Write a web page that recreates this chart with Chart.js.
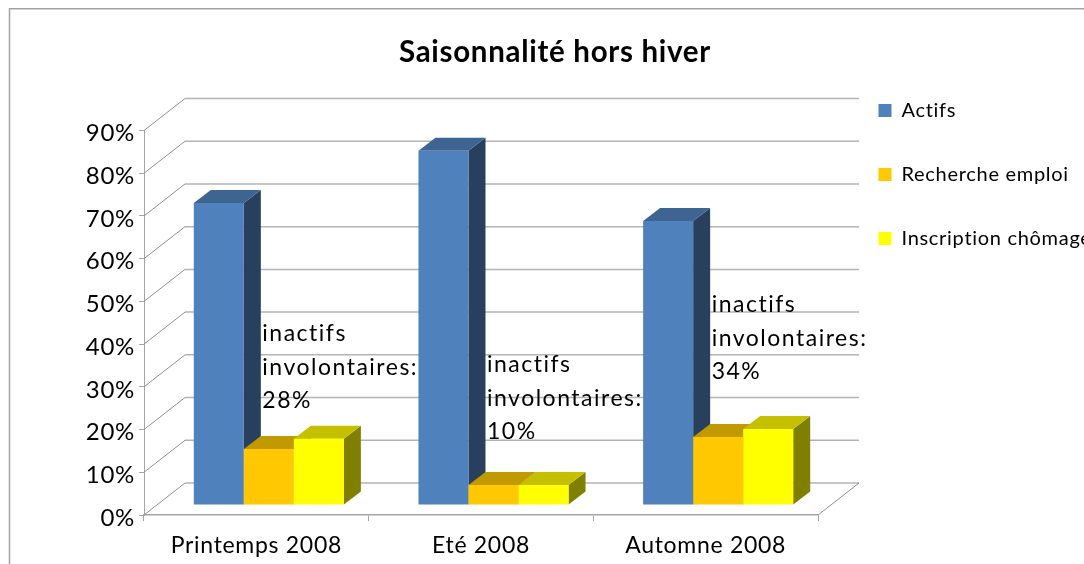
<!DOCTYPE html>
<html lang="fr">
<head>
<meta charset="utf-8">
<title>Saisonnalité hors hiver</title>
<style>
html,body{margin:0;padding:0;background:#fff;overflow:hidden}
canvas{display:block}
</style>
<script src="https://cdn.jsdelivr.net/npm/chart.js@4/dist/chart.umd.min.js"></script>
</head>
<body>
<canvas id="c" width="1084" height="564"></canvas>
<script>
const categories = ['Printemps 2008', 'Eté 2008', 'Automne 2008'];
const actifs = [70.7, 82.9, 66.5];
const rechercheEmploi = [13.1, 4.7, 15.9];
const inscriptionChomage = [15.5, 4.7, 17.8];
const inactifsInvolontaires = ['28%', '10%', '34%'];

const FONT = 'Lato, "Open Sans", sans-serif';
const SPACING = '0.7px';
const NOTE_SPACING = '1.5px';
const GRID = '#b4b4b4';
const DIAG = '#8f8f8f';
const AXIS = '#a6a6a6';
const WALL = {dx: 41, dy: -32};
const BAR_SHIFT = {dx: 12.5, dy: -10};
const BAR_DEPTH = {dx: 17, dy: -13};
const NOTE_LEVELS = [42.4, 35.2, 49.2];
const FACES = [
  {top: '#3e6491', side: '#283f5e'},
  {top: '#c09a00', side: '#806400'},
  {top: '#c4c000', side: '#808000'}
];

function quad(ctx, pts, color) {
  ctx.fillStyle = color;
  ctx.beginPath();
  pts.forEach((p, i) => i ? ctx.lineTo(p[0], p[1]) : ctx.moveTo(p[0], p[1]));
  ctx.closePath();
  ctx.fill();
}

const setSpacing = chart => { chart.ctx.letterSpacing = SPACING; };

const scene = {
  id: 'scene',
  beforeUpdate: setSpacing,
  beforeLayout: setSpacing,
  afterLayout(chart) {
    const lg = chart.legend;
    lg.left = 834.5; lg.top = 56.5; lg.right = 1084; lg.bottom = 564;
    lg.width = lg.right - lg.left; lg.height = lg.bottom - lg.top;
    chart.titleBlock.left = 62;
    chart.titleBlock.right = 1048;
  },
  beforeDraw(chart) {
    setSpacing(chart);
    const ctx = chart.ctx;
    ctx.save();
    ctx.strokeStyle = '#a3a3a3';
    ctx.lineWidth = 1.5;
    ctx.beginPath();
    ctx.moveTo(9.5, 564);
    ctx.lineTo(9.5, 8.8);
    ctx.lineTo(1084, 8.8);
    ctx.stroke();
    ctx.restore();
  },
  beforeDatasetsDraw(chart) {
    const ctx = chart.ctx, y = chart.scales.y, a = chart.chartArea;
    ctx.save();
    y.ticks.forEach(t => {
      const py = y.getPixelForValue(t.value);
      ctx.strokeStyle = DIAG; ctx.lineWidth = 1;
      ctx.beginPath();
      ctx.moveTo(a.left, py);
      ctx.lineTo(a.left + WALL.dx, py + WALL.dy);
      ctx.stroke();
      ctx.strokeStyle = GRID; ctx.lineWidth = 1.5;
      ctx.beginPath();
      ctx.moveTo(a.left + WALL.dx, py + WALL.dy);
      ctx.lineTo(a.right + WALL.dx, py + WALL.dy);
      ctx.stroke();
    });
    ctx.strokeStyle = DIAG; ctx.lineWidth = 1;
    ctx.beginPath();
    ctx.moveTo(a.right, a.bottom);
    ctx.lineTo(a.right + WALL.dx, a.bottom + WALL.dy);
    ctx.stroke();

    ctx.translate(BAR_SHIFT.dx, BAR_SHIFT.dy);
    chart.data.datasets.forEach((ds, i) => {
      const meta = chart.getDatasetMeta(i);
      meta.data.forEach(bar => {
        const p = bar.getProps(['x', 'y', 'base', 'width'], true);
        const l = p.x - p.width / 2, r = p.x + p.width / 2;
        const d = BAR_DEPTH;
        quad(ctx, [[r, p.y], [r + d.dx, p.y + d.dy], [r + d.dx, p.base + d.dy], [r, p.base]], FACES[i].side);
        quad(ctx, [[l, p.y], [l + d.dx, p.y + d.dy], [r + d.dx, p.y + d.dy], [r, p.y]], FACES[i].top);
      });
      meta.controller.draw();
    });
    ctx.restore();
    return false;
  },
  afterDraw(chart) {
    const ctx = chart.ctx, y = chart.scales.y;
    const meta = chart.getDatasetMeta(0);
    ctx.save();
    ctx.letterSpacing = NOTE_SPACING;
    ctx.fillStyle = '#000';
    ctx.font = '23px ' + FONT;
    ctx.textAlign = 'left';
    ctx.textBaseline = 'middle';
    inactifsInvolontaires.forEach((v, i) => {
      const bar = meta.data[i];
      const x = bar.x + bar.width / 2 + BAR_SHIFT.dx + 18.5;
      const py = y.getPixelForValue(NOTE_LEVELS[i]);
      ['inactifs', 'involontaires:', v].forEach((s, k) => ctx.fillText(s, x, py + k * 33.5));
    });
    ctx.restore();
  }
};

const common = {categoryPercentage: 0.668, barPercentage: 1, borderWidth: 0};

new Chart(document.getElementById('c'), {
  type: 'bar',
  plugins: [scene],
  data: {
    labels: categories,
    datasets: [
      {label: 'Actifs', data: actifs, backgroundColor: '#4f81bd', ...common},
      {label: 'Recherche emploi', data: rechercheEmploi, backgroundColor: '#ffc800', ...common},
      {label: 'Inscription chômage', data: inscriptionChomage, backgroundColor: '#ffff00', ...common}
    ]
  },
  options: {
    responsive: false,
    animation: false,
    events: [],
    layout: {padding: {left: 0, right: 36, top: 0, bottom: 0}},
    plugins: {
      tooltip: {enabled: false},
      title: {
        display: true,
        text: 'Saisonnalité hors hiver',
        color: '#000',
        font: {family: FONT, size: 29.5, weight: 'bold', lineHeight: 1.2},
        padding: {top: 34.3, bottom: 60.8}
      },
      legend: {
        position: 'right',
        align: 'start',
        maxWidth: 230,
        labels: {
          color: '#000',
          font: {family: FONT, size: 20, lineHeight: 1.2},
          boxWidth: 13,
          boxHeight: 13,
          padding: 44
        }
      }
    },
    scales: {
      x: {
        afterFit(s) { s.height = 49; },
        grid: {drawOnChartArea: false, tickLength: 6, tickColor: AXIS, lineWidth: 1},
        border: {color: AXIS, width: 1.5},
        ticks: {color: '#000', padding: 11, maxRotation: 0, font: {family: FONT, size: 23}}
      },
      y: {
        min: 0,
        max: 90,
        afterFit(s) { s.width = 144; },
        grid: {drawOnChartArea: false, tickLength: 5, tickColor: AXIS, lineWidth: 1},
        border: {color: AXIS, width: 1},
        ticks: {
          color: '#000',
          stepSize: 10,
          padding: 4,
          labelOffset: 3,
          font: {family: FONT, size: 24},
          callback: v => v + '%'
        }
      }
    }
  }
});
</script>
</body>
</html>
